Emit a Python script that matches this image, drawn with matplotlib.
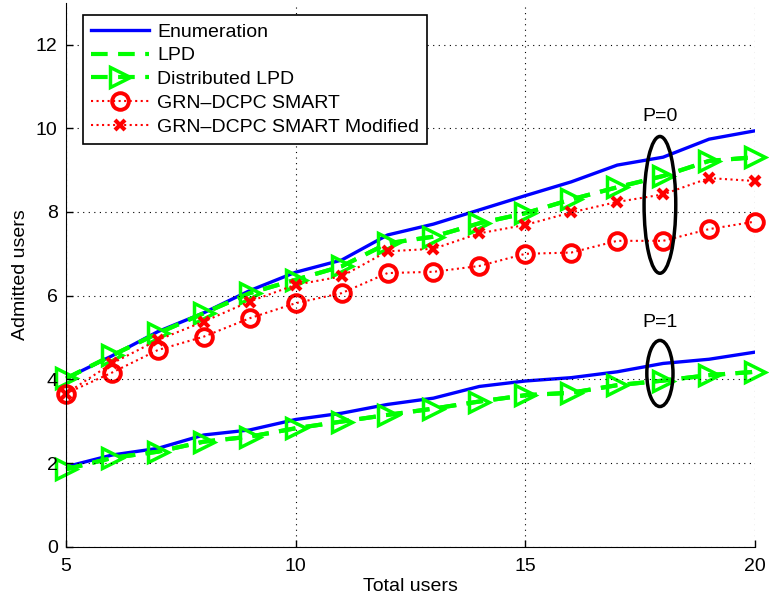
import matplotlib
matplotlib.use("Agg")
import matplotlib.pyplot as plt
from matplotlib.patches import Ellipse

plt.rcParams['font.family'] = ['Liberation Sans', 'DejaVu Sans']
plt.rcParams['font.size'] = 14

users = [5, 6, 7, 8, 9, 10, 11, 12, 13, 14, 15, 16, 17, 18, 19, 20]

# P=0
enum_p0 = [4.02, 4.56, 5.14, 5.59, 6.12, 6.56, 6.85, 7.45, 7.71, 8.05, 8.39, 8.72, 9.12, 9.31, 9.74, 9.94]
lpd_p0 = [4.02, 4.57, 5.10, 5.58, 6.06, 6.38, 6.70, 7.25, 7.41, 7.73, 7.97, 8.30, 8.59, 8.86, 9.22, 9.31]
smart_p0 = [3.66, 4.16, 4.70, 5.02, 5.46, 5.82, 6.06, 6.54, 6.57, 6.71, 7.00, 7.03, 7.31, 7.31, 7.59, 7.77]
smart_mod_p0 = [3.66, 4.38, 4.94, 5.38, 5.86, 6.26, 6.46, 7.06, 7.12, 7.49, 7.69, 7.99, 8.24, 8.42, 8.81, 8.74]

# P=1
enum_p1 = [1.91, 2.19, 2.35, 2.67, 2.79, 3.04, 3.19, 3.40, 3.55, 3.83, 3.96, 4.04, 4.18, 4.38, 4.48, 4.65]
lpd_p1 = [1.85, 2.12, 2.27, 2.51, 2.63, 2.83, 2.99, 3.15, 3.30, 3.47, 3.62, 3.68, 3.86, 3.97, 4.10, 4.18]

blue = '#0000ff'
green = '#00ff00'
red = '#ff0000'
dash = (0, (4, 2.5))

fig = plt.figure(figsize=(7.69, 6.04), dpi=100)
ax = fig.add_axes([0.0858, 0.0949, 0.896, 0.9005])

ax.plot(users, enum_p0, color=blue, lw=2.4, label='Enumeration')
ax.plot(users, lpd_p0, color=green, lw=3, ls=dash, label='LPD')
ax.plot(users, lpd_p0, color=green, lw=3, ls=dash, marker='>', clip_on=False,
        ms=14, mfc='none', mew=2.5, label='Distributed LPD')
ax.plot(users, smart_p0, color=red, lw=1.5, ls=':', marker='o', clip_on=False,
        ms=12, mfc='none', mew=2.8, label='GRN\u2013DCPC SMART')
ax.plot(users, smart_mod_p0, color=red, lw=1.5, ls=':', marker='x', clip_on=False,
        ms=7, mew=3, label='GRN\u2013DCPC SMART Modified')

ax.plot(users, enum_p1, color=blue, lw=2.4)
ax.plot(users, lpd_p1, color=green, lw=3, ls=dash)
ax.plot(users, lpd_p1, color=green, lw=3, ls=dash, marker='>', clip_on=False,
        ms=14, mfc='none', mew=2.5)

ax.add_patch(Ellipse((17.93, 8.17), 0.69, 3.27, fill=False, ec='black', lw=2.5, zorder=5))
ax.add_patch(Ellipse((17.93, 4.14), 0.57, 1.58, fill=False, ec='black', lw=2.5, zorder=5))
ax.text(17.93, 10.28, 'P=0', ha='center', va='center')
ax.text(17.93, 5.35, 'P=1', ha='center', va='center')

ax.set_xlim(5, 20)
ax.set_ylim(0, 13)
ax.set_xticks([5, 10, 15, 20])
ax.set_yticks([0, 2, 4, 6, 8, 10, 12])
ax.grid(True, ls=(0, (1, 4)), color='black', lw=0.8)
ax.spines['top'].set_visible(False)
ax.spines['right'].set_visible(False)
ax.tick_params(direction='in', length=5, width=1)
ax.tick_params(axis='x', pad=8)
ax.tick_params(axis='y', pad=6)
ax.yaxis.set_zorder(2.5)  # keep y tick labels above the markers at x=5
ax.set_xlabel('Total users', labelpad=2)
ax.set_ylabel('Admitted users', labelpad=5)

leg = ax.legend(loc='upper left', bbox_to_anchor=(0.011, 0.995), fancybox=False,
                framealpha=1, edgecolor='black', handlelength=3.0,
                borderpad=0.4, labelspacing=0.32, handletextpad=0.4)
leg.get_frame().set_linewidth(1.2)
leg.set_zorder(6)

plt.savefig('out.png', dpi=100)
